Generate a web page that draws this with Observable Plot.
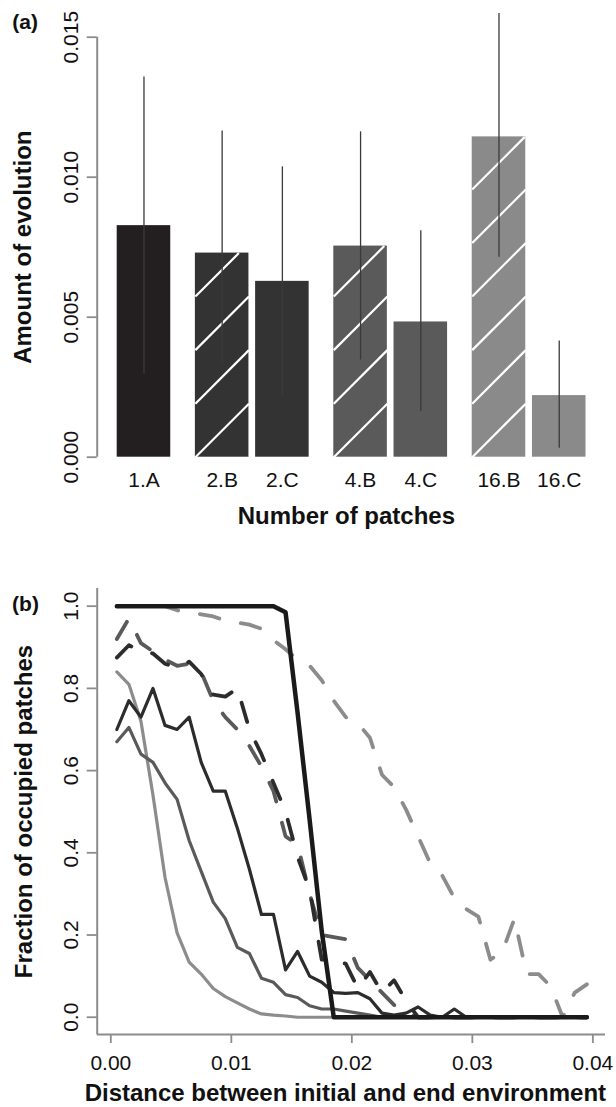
<!DOCTYPE html>
<html><head><meta charset="utf-8">
<script src="https://cdn.jsdelivr.net/npm/d3@7"></script>
<script src="https://cdn.jsdelivr.net/npm/@observablehq/plot@0.6"></script>
<style>body{margin:0;background:#fff} #chart{width:616px} #chart svg{display:block}</style>
</head><body><div id="chart"></div>
<script>
// ---------- Panel (a) data ----------
const barLabels = ["1.A","2.B","2.C","4.B","4.C","16.B","16.C"];
const barGroups = ["1","2","2","4","4","16","16"];
const barValues = [0.00827,0.00729,0.00628,0.00754,0.00483,0.01144,0.00220];
const errLow   = [0.00296,0.00335,0.00216,0.00347,0.00163,0.00714,0.00032];
const errHigh  = [0.01358,0.01165,0.01037,0.01162,0.00809,0.01585,0.00415];
const yTicksA  = [0, 0.005, 0.010, 0.015];

// ---------- Panel (b) data ----------
const distance = [0.0005,0.0015,0.0025,0.0035,0.0045,0.0055,0.0065,0.0075,0.0085,0.0095,
  0.0105,0.0115,0.0125,0.0135,0.0145,0.0155,0.0165,0.0175,0.0185,0.0195,
  0.0205,0.0215,0.0225,0.0235,0.0245,0.0255,0.0265,0.0275,0.0285,0.0295,
  0.0305,0.0315,0.0325,0.0335,0.0345,0.0355,0.0365,0.0375,0.0385,0.0395];
const occ1A  = [1,1,1,1,1,1,1,1,1,1, 1,1,1,1,0.985,0.74,0.48,0.21,0,0, 0,0,0,0,0,0,0,0,0,0, 0,0,0,0,0,0,0,0,0,0];
const occ2B  = [0.875,0.905,0.89,0.885,0.86,0.85,0.865,0.835,0.785,0.78, 0.80,0.70,0.64,0.57,0.50,0.39,0.31,0.14,0.14,0.13, 0.07,0.11,0.06,0.09,0.04,0,0,0,0,0, 0,0,0,0,0,0,0,0,0,0];
const occ2C  = [0.70,0.77,0.73,0.80,0.71,0.70,0.73,0.62,0.55,0.55, 0.46,0.36,0.25,0.25,0.115,0.16,0.10,0.085,0.06,0.058, 0.06,0.045,0.01,0.005,0.01,0.025,0.005,0,0.02,0, 0,0,0,0,0,0,0,0,0,0];
const occ4B  = [0.92,0.97,0.91,0.89,0.87,0.855,0.86,0.84,0.77,0.73, 0.70,0.66,0.61,0.55,0.44,0.42,0.30,0.20,0.195,0.19, 0.12,0.09,0.06,0.03,0.01,0,0,0,0,0, 0,0,0,0,0,0,0,0,0,0];
const occ4C  = [0.67,0.705,0.64,0.62,0.57,0.53,0.43,0.355,0.28,0.24, 0.17,0.155,0.095,0.085,0.055,0.048,0.028,0.02,0.02,0.015, 0.01,0.005,0,0,0,0,0,0,0,0, 0,0,0,0,0,0,0,0,0,0];
const occ16B = [1,1,1,1,1,0.99,0.985,0.98,0.975,0.965, 0.96,0.955,0.945,0.917,0.895,0.87,0.855,0.82,0.77,0.73, 0.715,0.68,0.59,0.56,0.505,0.44,0.375,0.345,0.29,0.263, 0.245,0.14,0.16,0.24,0.105,0.105,0.075,0,0.06,0.08];
const occ16C = [0.84,0.81,0.72,0.54,0.34,0.205,0.134,0.105,0.07,0.05, 0.035,0.02,0.008,0.005,0.003,0,0,0,0,0, 0,0,0,0,0,0,0,0,0,0, 0,0,0,0,0,0,0,0,0,0];
const xTicksB = [0, 0.01, 0.02, 0.03, 0.04];
const yTicksB = [0, 0.2, 0.4, 0.6, 0.8, 1.0];

// ---------- styles ----------
const FONT = "'Liberation Sans', Arial, Helvetica, sans-serif";
const AXIS = "#8c8c8c";
const TICK_FONT = 21;
const groupColor = {"1": "#231f20", "2": "#333333", "4": "#5a5a5a", "16": "#8a8a8a"};
const lineColor  = {"1": "#1a1a1a", "2": "#2c2c2c", "4": "#5a5a5a", "16": "#8c8c8c"};

// ---------- panel (a) layout ----------
const SMALL_GAP = 0.125, BIG_GAP = 0.46;
let pos = 0;
const bars = barLabels.map((label, i) => {
  if (i > 0) pos += barGroups[i] === barGroups[i - 1] ? SMALL_GAP : BIG_GAP;
  const b = {label, group: barGroups[i], value: barValues[i], lo: errLow[i], hi: errHigh[i],
             x1: pos, x2: pos + 1, xc: pos + 0.5, hatched: label.endsWith(".B")};
  pos += 1;
  return b;
});
const total = pos;
const A = {w: 616, h: 540, ml: 96.7, mr: 11, mt: 36.7, mb: 83.3, padL: 20, padR: 19.5};
const pxPerX = (A.w - A.ml - A.mr - A.padL - A.padR) / total;
const xDomainA = [-A.padL / pxPerX, total + A.padR / pxPerX];
const pxPerY = (A.h - A.mt - A.mb) / 0.015;
const s = pxPerX / pxPerY; // y-units per bar width -> 45 degree hatch

const hatch = [];
for (const b of bars) if (b.hatched) {
  for (let k = 0; k * s < b.value; k++) {
    const ya = k * s;
    let yb = (k + 1) * s, xb = b.x2;
    if (yb > b.value) { xb = b.x1 + (b.value - ya) / s; yb = b.value; }
    hatch.push({x1: b.x1, y1: ya, x2: xb, y2: yb});
  }
}

const plotA = Plot.plot({
  width: A.w, height: A.h, marginLeft: A.ml, marginRight: A.mr, marginTop: A.mt, marginBottom: A.mb,
  x: {domain: xDomainA, axis: null},
  y: {domain: [0, 0.015], axis: null},
  style: {fontFamily: FONT, fontSize: TICK_FONT + "px", color: "#111", background: "white", overflow: "visible"},
  marks: [
    Plot.rect(bars, {x1: "x1", x2: "x2", y1: () => 0, y2: "value", fill: d => groupColor[d.group]}),
    Plot.link(hatch, {x1: "x1", y1: "y1", x2: "x2", y2: "y2", stroke: "white", strokeWidth: 2.2}),
    Plot.ruleX(bars, {x: "xc", y1: "lo", y2: "hi", stroke: "#3a3a3a", strokeWidth: 1.3}),
    Plot.ruleX([xDomainA[0]], {y1: () => 0, y2: () => 0.015, stroke: AXIS, strokeWidth: 2}),
    Plot.axisY(yTicksA, {tickSize: 10, tickPadding: 9, tickRotate: -90, tickFormat: d3.format(".3f"),
      stroke: AXIS, strokeWidth: 1.8, fill: "#111", fontSize: TICK_FONT, label: null}),
    Plot.text(bars, {x: "xc", y: () => 0, text: "label", dy: 23, lineAnchor: "middle", fontSize: TICK_FONT}),
    Plot.text(["Amount of evolution"], {frameAnchor: "left", dx: -74, rotate: -90, textAnchor: "middle", lineAnchor: "middle", fontWeight: "bold", fontSize: 24}),
    Plot.text(["Number of patches"], {frameAnchor: "bottom", dx: -5, dy: 59, textAnchor: "middle", lineAnchor: "middle", fontWeight: "bold", fontSize: 24}),
    Plot.text(["(a)"], {frameAnchor: "top-left", dx: -72, dy: -15, textAnchor: "middle", lineAnchor: "middle", fontWeight: "bold", fontSize: 21})
  ]
});

// ---------- panel (b) ----------
const xDomainB = [-0.00113, 0.04105];
const yDomainB = [-0.042, 1.043];
const seriesDefs = [
  {name: "16.C", values: occ16C, group: "16", dashed: false},
  {name: "4.C",  values: occ4C,  group: "4",  dashed: false},
  {name: "2.C",  values: occ2C,  group: "2",  dashed: false},
  {name: "16.B", values: occ16B, group: "16", dashed: true},
  {name: "4.B",  values: occ4B,  group: "4",  dashed: true},
  {name: "2.B",  values: occ2B,  group: "2",  dashed: true},
  {name: "1.A",  values: occ1A,  group: "1",  dashed: false}
];
const lineMarks = seriesDefs.map(sd => Plot.line(
  distance.map((x, i) => ({x, f: sd.values[i]})),
  {x: "x", y: "f", stroke: lineColor[sd.group],
   strokeWidth: sd.group === "1" ? 4.5 : (sd.dashed ? 3.8 : 3.2),
   strokeDasharray: sd.dashed ? "20,22" : null,
   strokeLinecap: "round", strokeLinejoin: "round"}));

const plotB = Plot.plot({
  width: 616, height: 567, marginLeft: 96.7, marginRight: 11, marginTop: 48, marginBottom: 73,
  x: {domain: xDomainB, axis: null},
  y: {domain: yDomainB, axis: null},
  style: {fontFamily: FONT, fontSize: TICK_FONT + "px", color: "#111", background: "white", overflow: "visible"},
  marks: [
    Plot.ruleX([xDomainB[0]], {stroke: AXIS, strokeWidth: 2}),
    Plot.ruleY([yDomainB[0]], {stroke: AXIS, strokeWidth: 2}),
    ...lineMarks,
    Plot.axisX(xTicksB, {tickSize: 9, tickPadding: 12, tickFormat: d3.format(".2f"),
      stroke: AXIS, strokeWidth: 1.8, fill: "#111", fontSize: TICK_FONT, label: null}),
    Plot.axisY(yTicksB, {tickSize: 10, tickPadding: 9, tickRotate: -90, tickFormat: d3.format(".1f"),
      stroke: AXIS, strokeWidth: 1.8, fill: "#111", fontSize: TICK_FONT, label: null}),
    Plot.text(["Fraction of occupied patches"], {frameAnchor: "left", dx: -73, rotate: -90, textAnchor: "middle", lineAnchor: "middle", fontWeight: "bold", fontSize: 24}),
    Plot.text(["Distance between initial and end environment"], {frameAnchor: "bottom", dx: -6, dy: 58.5, textAnchor: "middle", lineAnchor: "middle", fontWeight: "bold", fontSize: 24}),
    Plot.text(["(b)"], {frameAnchor: "top-left", dx: -71.7, dy: 16, textAnchor: "middle", lineAnchor: "middle", fontWeight: "bold", fontSize: 21})
  ]
});

const chart = document.getElementById("chart");
chart.appendChild(plotA);
chart.appendChild(plotB);
</script>
</body></html>
